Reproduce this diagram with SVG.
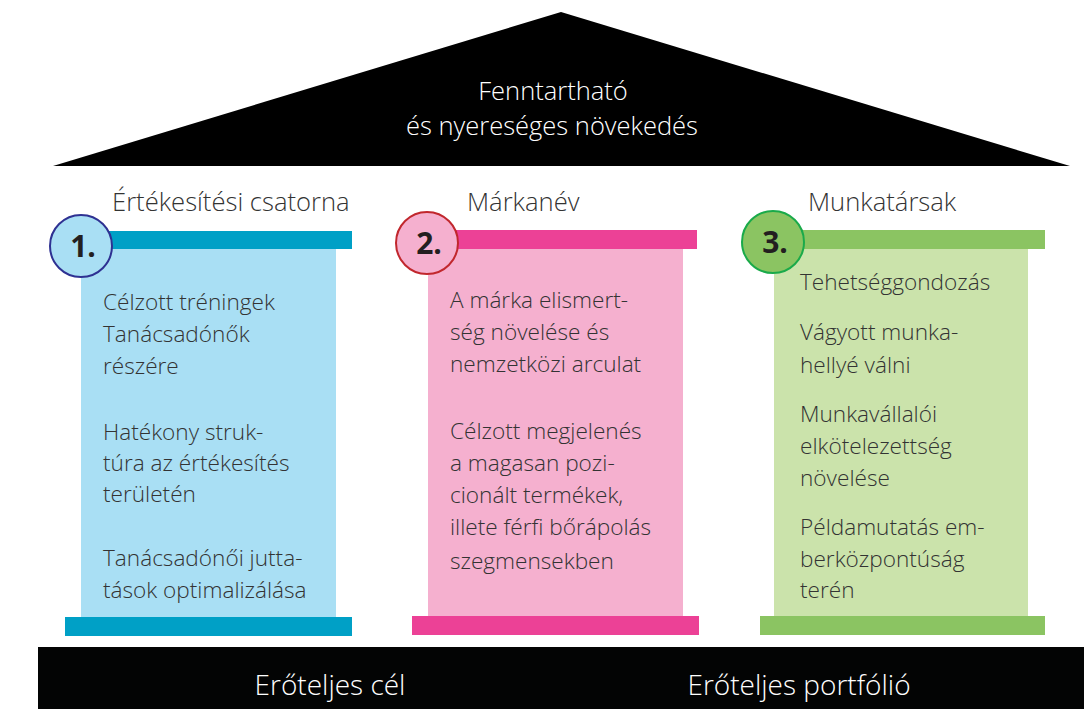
<svg xmlns="http://www.w3.org/2000/svg" width="1084" height="709" viewBox="0 0 1084 709">
<style>
.t{font-family:"Open Sans","Liberation Sans",sans-serif;font-weight:300}
.w{fill:#fff;font-size:25.5px}
.f{fill:#fff;font-size:28px}
.h{fill:#333;font-size:25.6px}
.b{fill:#333;font-size:22.6px}
.n{font-family:"Open Sans","Liberation Sans",sans-serif;font-weight:700;font-size:30px;fill:#231f20}
</style>
<rect width="1084" height="709" fill="#fff"/>
<g id="roof">
<polygon points="561,12 1070,166 53,166" fill="#000"/>
<text class="t w" x="553" y="100" text-anchor="middle">Fenntartható</text>
<text class="t w" x="552" y="135" text-anchor="middle">és nyereséges növekedés</text>
</g>
<g id="pillar1">
<rect x="81" y="249" width="255" height="368" fill="#a9dff4"/>
<rect x="108" y="231" width="244" height="18" fill="#00a0c6"/>
<rect x="65" y="617" width="287" height="19" fill="#00a0c6"/>
<circle cx="81" cy="246" r="31" fill="#a9dff4" stroke="#2e3192" stroke-width="2"/>
<text class="n" x="83" y="257" text-anchor="middle">1.</text>
<text class="t h" x="112" y="211">Értékesítési csatorna</text>
<g class="t b">
<text x="103" y="310">Célzott tréningek</text>
<text x="103" y="342">Tanácsadónők</text>
<text x="103" y="374">részére</text>
<text x="103" y="440">Hatékony struk-</text>
<text x="103" y="471">túra az értékesítés</text>
<text x="103" y="502">területén</text>
<text x="103" y="566">Tanácsadónői jutta-</text>
<text x="103" y="598">tások optimalizálása</text>
</g>
</g>
<g id="pillar2">
<rect x="428" y="249" width="255" height="367" fill="#f5b0cf"/>
<rect x="455" y="230" width="242" height="19" fill="#ec4196"/>
<rect x="412" y="616" width="287" height="19" fill="#ec4196"/>
<circle cx="427" cy="243" r="31" fill="#f5b0cf" stroke="#c1272d" stroke-width="2"/>
<text class="n" x="429" y="254" text-anchor="middle">2.</text>
<text class="t h" x="467" y="211">Márkanév</text>
<g class="t b">
<text x="450" y="308">A márka elismert-</text>
<text x="450" y="340">ség növelése és</text>
<text x="450" y="372">nemzetközi arculat</text>
<text x="450" y="439">Célzott megjelenés</text>
<text x="450" y="471">a magasan pozi-</text>
<text x="450" y="503">cionált termékek,</text>
<text x="450" y="535">illete férfi bőrápolás</text>
<text x="450" y="569">szegmensekben</text>
</g>
</g>
<g id="pillar3">
<rect x="774" y="249" width="254" height="367" fill="#cbe3ab"/>
<rect x="800" y="230" width="245" height="19" fill="#8bc462"/>
<rect x="760" y="616" width="285" height="19" fill="#8bc462"/>
<circle cx="773" cy="242" r="31" fill="#8bc462" stroke="#1aaa4a" stroke-width="2"/>
<text class="n" x="775" y="253" text-anchor="middle">3.</text>
<text class="t h" x="808" y="211">Munkatársak</text>
<g class="t b">
<text x="800" y="290">Tehetséggondozás</text>
<text x="800" y="340">Vágyott munka-</text>
<text x="800" y="373">hellyé válni</text>
<text x="800" y="422">Munkavállalói</text>
<text x="800" y="454">elkötelezettség</text>
<text x="800" y="486">növelése</text>
<text x="800" y="535">Példamutatás em-</text>
<text x="800" y="567">berközpontúság</text>
<text x="800" y="598">terén</text>
</g>
</g>
<g id="base">
<rect x="38" y="647" width="1046" height="62" fill="#030404"/>
<text class="t f" x="330" y="695" text-anchor="middle">Erőteljes cél</text>
<text class="t f" x="799" y="695" text-anchor="middle">Erőteljes portfólió</text>
</g>
<g id="connectors"/>
</svg>
